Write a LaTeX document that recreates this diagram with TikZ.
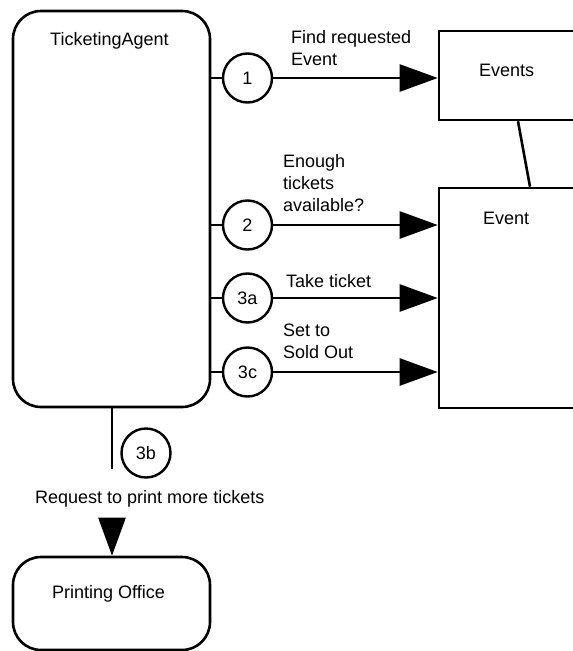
\documentclass[tikz,border=0pt]{standalone}
\usepackage{fontspec}
\setmainfont{Liberation Sans}
\usetikzlibrary{arrows.meta}
\begin{document}
\begin{tikzpicture}[x=1pt,y=-1pt,
  every node/.style={font=\fontsize{18}{22}\selectfont},
  box/.style={draw, line width=2.6pt, inner sep=0pt},
  roundbox/.style={box, rounded corners=28pt},
  numcirc/.style={draw, circle, line width=2.4pt, minimum size=49pt, inner sep=0pt},
  txt/.style={inner sep=0pt, anchor=base west},
  mtxt/.style={inner sep=0pt, anchor=north west, align=left},
  link/.style={line width=2.6pt},
  msg/.style={line width=2.6pt, -{Triangle[length=38pt,width=27pt]}}
]
\useasboundingbox (0,0) rectangle (573,651);
\clip (0,0) rectangle (573,651);

% participants
\node[roundbox, minimum width=197pt, minimum height=396pt] (ta) at (111.5,209) {};
\node[box, minimum width=161pt, minimum height=89pt] (events) at (519.5,75.5) {};
\node[box, minimum width=161pt, minimum height=220pt] (event) at (519.5,298) {};
\node[roundbox, minimum width=197pt, minimum height=93pt] (po) at (111.5,603.5) {};

\node[txt] (talbl) at (50,45) {TicketingAgent};
\node[txt] (evslbl) at (479,76) {Events};
\node[txt] (evlbl) at (483,224) {Event};
\node[txt] (polbl) at (52,598) {Printing Office};

% association between the collection and its element
\draw[link] ([xshift=-1.5pt]events.south) -- ([xshift=10.5pt]event.north);

% numbered messages
\node[numcirc] (c1) at (247.5,78) {1};
\node[numcirc] (c2) at (247.5,225) {2};
\node[numcirc] (c3a) at (247.5,298) {3a};
\node[numcirc] (c3c) at (247.5,372) {3c};
\node[numcirc] (c3b) at (146,453) {3b};

\draw[link] (c1 -| ta.east) -- (c1.west);
\draw[msg] (c1.east) -- (c1 -| events.west);
\draw[link] (c2 -| ta.east) -- (c2.west);
\draw[msg] (c2.east) -- (c2 -| event.west);
\draw[link] (c3a -| ta.east) -- (c3a.west);
\draw[msg] (c3a.east) -- (c3a -| event.west);
\draw[link] (c3c -| ta.east) -- (c3c.west);
\draw[msg] (c3c.east) -- (c3c -| event.west);

\node[mtxt] (m1) at (291,30) {Find requested\\Event};
\node[mtxt] (m2) at (283,154) {Enough\\tickets\\available?};
\node[txt] (m3a) at (286,287) {Take ticket};
\node[mtxt] (m3c) at (283,324) {Set to\\Sold Out};

% request to the printing office
\coordinate (rqend) at (112,469);
\draw[link] (ta.south -| rqend) -- (rqend);
\node[txt] (rqlbl) at (35,503) {Request to print more tickets};
\coordinate (prstart) at (112,519);
\draw[msg] (prstart) -- (po.north -| prstart);
\end{tikzpicture}
\end{document}
